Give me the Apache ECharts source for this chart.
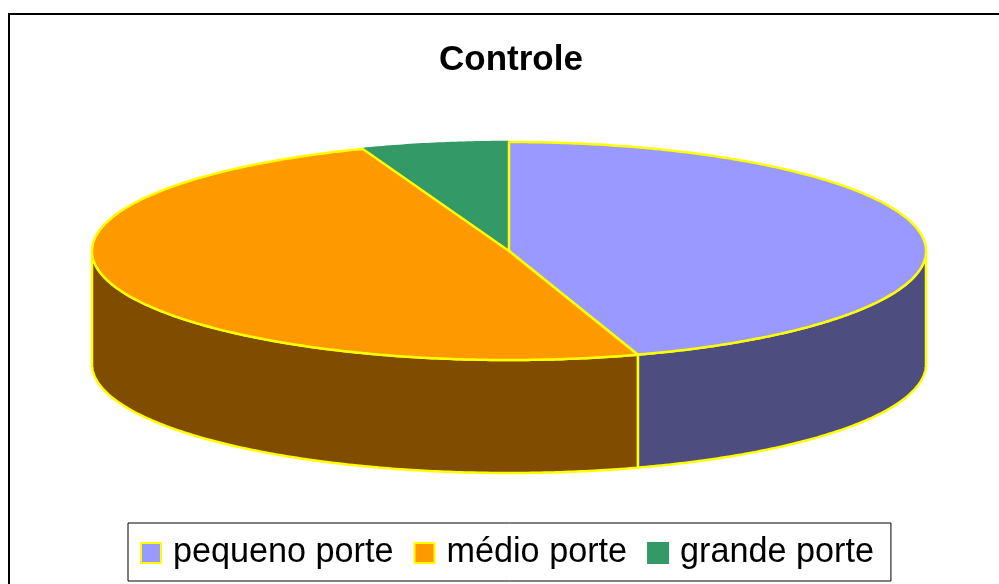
<!DOCTYPE html>
<html><head><meta charset="utf-8">
<style>html,body{margin:0;padding:0;background:#fff}#c{width:999px;height:584px}</style>
<script src="https://cdn.jsdelivr.net/npm/echarts@6/dist/echarts.min.js"></script>
</head><body><div id="c"></div>
<script>
var titleText = 'Controle';
var categories = ['pequeno porte', 'médio porte', 'grande porte'];
var values = [45, 49.3, 5.7];
var topColors = ['#9999FF', '#FF9900', '#339966'];
var wallColors = ['#4D4D80', '#804D00', '#1A4D33'];
var edgeColors = ['#FFFF00', '#FFFF00', '#339966'];

var CX = 509, CY = 251, RX = 417, RY = 109, DEPTH = 113;
var total = values.reduce(function (a, b) { return a + b; }, 0);

function pt(theta, dy) {
  return [CX + RX * Math.sin(theta), CY - RY * Math.cos(theta) + (dy || 0)];
}
function arc(a0, a1, dy) {
  var n = Math.max(2, Math.ceil(Math.abs(a1 - a0) / 0.01)), out = [];
  for (var i = 0; i <= n; i++) out.push(pt(a0 + (a1 - a0) * i / n, dy));
  return out;
}
function renderSlice(idx) {
  return function () {
    var before = 0;
    for (var i = 0; i < idx; i++) before += values[i];
    var a0 = before / total * 2 * Math.PI;
    var a1 = (before + values[idx]) / total * 2 * Math.PI;
    var children = [];
    // front wall: only the part facing the viewer (90 to 270 degrees from the top)
    var w0 = Math.max(a0, Math.PI / 2), w1 = Math.min(a1, 3 * Math.PI / 2);
    if (w1 > w0) {
      children.push({
        type: 'polygon',
        shape: { points: arc(w0, w1, 0).concat(arc(w1, w0, DEPTH)) },
        style: { fill: wallColors[idx], stroke: edgeColors[idx], lineWidth: 2.5, lineJoin: 'round' }
      });
    }
    children.push({
      type: 'polygon',
      shape: { points: [[CX, CY]].concat(arc(a0, a1, 0)) },
      style: { fill: topColors[idx], stroke: edgeColors[idx], lineWidth: 2.5, lineJoin: 'round' }
    });
    return { type: 'group', children: children };
  };
}

var series = categories.map(function (name, i) {
  return {
    type: 'custom',
    name: name,
    coordinateSystem: 'none',
    silent: true,
    animation: false,
    z: i === 2 ? 1 : 2,
    itemStyle: { color: topColors[i] },
    data: [[values[i]]],
    renderItem: renderSlice(i)
  };
});

var chart = echarts.init(document.getElementById('c'), null, { renderer: 'canvas' });
chart.setOption({
  animation: false,
  backgroundColor: '#fff',
  title: {
    text: titleText, left: 506, top: 38, textAlign: 'center',
    textStyle: { fontFamily: 'Liberation Sans', fontWeight: 'bold', fontSize: 35, color: '#000' }
  },
  legend: {
    left: 128, top: 523,
    orient: 'horizontal',
    backgroundColor: '#fff',
    borderColor: '#000', borderWidth: 1,
    padding: [13, 17, 11, 12],
    itemWidth: 20, itemHeight: 20, itemGap: 20,
    textStyle: { fontFamily: 'Liberation Sans', fontSize: 34.2, lineHeight: 34, color: '#000', padding: [0, 0, 0, 7] },
    data: categories.map(function (name, i) {
      return { name: name, icon: 'rect',
        itemStyle: { color: topColors[i], borderColor: edgeColors[i], borderWidth: 2 } };
    })
  },
  graphic: [{
    type: 'rect', silent: true, z: -1,
    shape: { x: 9, y: 14, width: 1200, height: 800 },
    style: { fill: null, stroke: '#000', lineWidth: 2 }
  }],
  series: series
});
</script></body></html>
